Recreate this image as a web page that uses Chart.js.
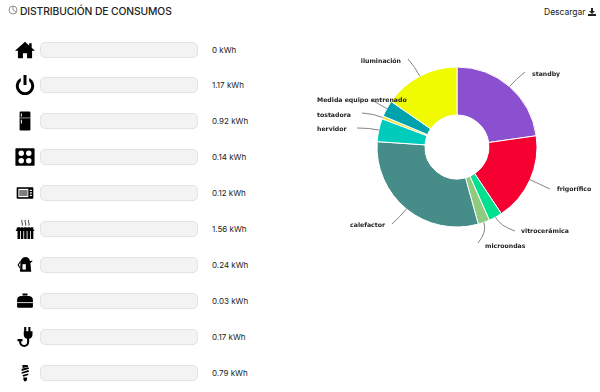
<!DOCTYPE html>
<html>
<head>
<meta charset="utf-8">
<script src="https://cdn.jsdelivr.net/npm/chart.js@4"></script>
<style>
html, body { margin: 0; padding: 0; background: #fff; overflow: hidden; width: 600px; height: 392px; }
body { position: relative; font-family: Inter, "Open Sans", sans-serif; color: #222; }
#title { position: absolute; left: 20px; top: 4px; font-size: 10.3px; line-height: 14px; white-space: nowrap; letter-spacing: -0.1px; font-weight: 500; }
#titleIcon { position: absolute; left: 8px; top: 5px; }
#download { position: absolute; left: 544px; top: 6px; font-size: 8.5px; line-height: 12px; }
#download svg { vertical-align: -1px; }
.track { position: absolute; left: 40px; width: 156px; height: 14px; background: #f3f3f3; border: 1px solid #e3e3e3; border-radius: 5px; }
.value { position: absolute; left: 212px; font-size: 8px; line-height: 12px; white-space: nowrap; }
.icon { position: absolute; left: 14.5px; width: 20px; height: 20px; }
#pie { position: absolute; left: 314px; top: 32px; }
</style>
</head>
<body>
<svg id="titleIcon" width="10" height="10" viewBox="0 0 10 10" fill="none" stroke="#777" stroke-width="0.8"><circle cx="5" cy="5" r="4"/><path d="M5 1v4l3 2"/></svg>
<div id="title">DISTRIBUCIÓN DE CONSUMOS</div>
<div id="download">Descargar <svg width="8" height="8" viewBox="0 0 8 8" fill="#222"><path d="M3 0h2v3h2L4 6 1 3h2zM0 6h8v2H0z"/></svg></div>
<div id="rows"></div>
<canvas id="pie" width="286" height="230"></canvas>

<script>
// Consumption per row, top to bottom
const rowIcons = ['home', 'power', 'fridge', 'hob', 'microwave', 'radiator', 'kettle', 'toaster', 'plug', 'bulb'];
const rowValues = [0, 1.17, 0.92, 0.14, 0.12, 1.56, 0.24, 0.03, 0.17, 0.79];

// Pie slices, clockwise from the top
const categories = ['standby', 'frigorífico', 'vitrocerámica', 'microondas', 'calefactor', 'hervidor', 'tostadora', 'Medida equipo entrenado', 'iluminación'];
const pieValues = [1.17, 0.92, 0.14, 0.12, 1.56, 0.24, 0.03, 0.17, 0.79];
const pieColors = ['#8a50cf', '#f50031', '#00e08f', '#8ecb7f', '#468c88', '#00ccbb', '#e8e020', '#00a3ad', '#f0fa00'];

// Row icons
const iconPaths = {
    home: '<path d="M12 2 0 13h3.500v9h6v-6h5v6h6v-9H24l-4-3.600V4h-3v2.700z"/>',
    power: '<path d="M10.200 0h3.600v12h-3.600z"/><path d="M7 3.500v4a7.500 7.500 0 1 0 10 0v-4a11 11 0 1 1-10 0z"/>',
    fridge: '<rect x="5.500" y="0.500" width="13" height="23" rx="1.500"/><path d="M5.500 8h13v.7h-13z" fill="#fff"/><path d="M7 3h1.200v3.500H7zM7 10.500h1.200v4.500H7z" fill="#fff"/>',
    hob: '<rect x="0.500" y="1.500" width="23" height="21" rx="1"/><g fill="#fff"><circle cx="7.500" cy="7.500" r="3.300"/><circle cx="16.500" cy="7.500" r="3.300"/><circle cx="7.500" cy="16.500" r="3.300"/><circle cx="16.500" cy="16.500" r="3.300"/></g>',
    microwave: '<rect x="2" y="5" width="20" height="14" rx="1"/><path d="M4 7h12v10H4z" fill="#fff"/><path d="M5 9h10v1.200H5zM5 11.400h10v1.200H5zM5 13.800h10v1.200H5z"/><path d="M17.800 8h2.400v1.500h-2.400zM17.800 11h2.400v1.500h-2.400zM17.800 14h2.400v1.500h-2.400z" fill="#fff"/>',
    radiator: '<path d="M3 10h3v14H3zM7 10h3v14H7zM11 10h3v14h-3zM15 10h3v14h-3zM19 10h3v14h-3zM2 10.500h20v2.500H2zM1 13h22v1.500H1z"/><path d="M8.500 1q-1 2 0 3.500t0 3.500M12.500 1q-1 2 0 3.500t0 3.500M16.500 1q-1 2 0 3.500t0 3.500" fill="none" stroke="#000" stroke-width="0.9"/>',
    kettle: '<path d="M12 2.500a6 6 0 0 1 6 5l2.500-1 .5 1-2.500 2 1 10.500H6l.5-10.500a7 7 0 0 1 1-4A6 6 0 0 1 12 2.500z"/><path d="M6.500 7 3 12l2.500 4 1-1-2-3 2.500-3.500z"/><path d="M9 11h4v6.500H9z" fill="#fff"/>',
    toaster: '<path d="M9 3h6v2.500h-6z"/><path d="M7 6h10a5 5 0 0 1 4.500 5v8a1 1 0 0 1-1 1H3.500a1 1 0 0 1-1-1v-8A5 5 0 0 1 7 6z"/><path d="M2.500 13.500h19v1h-19z" fill="#fff"/>',
    plug: '<path d="M11 0h2.500v5H16V0h2.500v5H21v4a5 5 0 0 1-4 5v4a6 6 0 0 1-12 0v-1H3v-2.500h6V17H7.500v1a3.500 3.500 0 0 0 7 0v-4a5 5 0 0 1-4-5V5h.500z"/>',
    bulb: '<path d="M9 2.500h6l1 2-7 1.500zM8 7l8-2 1 2-9 2.500zM8 11l8-2.500 1 2-9 2.500zM9 14.500l7-2v2l-6 2zM10 17.500h4.500v2l-1 2.500h-2.500l-1-2.500z"/>'
};

const rows = document.getElementById('rows');
rowValues.forEach((v, i) => {
    const y = 49.5 + i * 35.9;
    rows.insertAdjacentHTML('beforeend',
        `<svg class="icon" viewBox="0 0 24 24" style="top:${y - 10}px">${iconPaths[rowIcons[i]]}</svg>` +
        `<div class="track" style="top:${y - 8}px"></div>` +
        `<div class="value" style="top:${y - 6}px">${v} kWh</div>`);
});

// Where each label and the end of its leader sit, relative to the pie centre
const labelLayout = {
    'standby': { text: [75, -73], end: [68, -75], align: 'left' },
    'frigorífico': { text: [100, 42], end: [93, 42], align: 'left' },
    'vitrocerámica': { text: [64, 84], end: [58, 84], align: 'left' },
    'microondas': { text: [28, 99], end: [21, 96], align: 'left' },
    'calefactor': { text: [-72, 78], end: [-65, 77], align: 'right' },
    'hervidor': { text: [-140, -18], end: [-100, -19], align: 'left' },
    'tostadora': { text: [-140, -32], end: [-95, -34], align: 'left' },
    'Medida equipo entrenado': { text: [-140, -47], end: [-85, -47], align: 'left' },
    'iluminación': { text: [-56, -86], end: [-49, -88], align: 'right' }
};

// Draws the leaders and labels, starting at the middle of each arc
const leaderLabels = {
    id: 'leaderLabels',
    afterDraw(chart) {
        const ctx = chart.ctx;
        ctx.save();
        ctx.font = 'bold 6.2px "DejaVu Sans"';
        ctx.textBaseline = 'middle';
        chart.getDatasetMeta(0).data.forEach((arc, i) => {
            const p = arc.getProps(['x', 'y', 'startAngle', 'endAngle', 'outerRadius'], true);
            const mid = (p.startAngle + p.endAngle) / 2;
            const layout = labelLayout[categories[i]];
            const sx = p.x + Math.cos(mid) * p.outerRadius;
            const sy = p.y + Math.sin(mid) * p.outerRadius;
            const ex = p.x + layout.end[0];
            const ey = p.y + layout.end[1];
            const cx = p.x + Math.cos(mid) * (p.outerRadius + 10);
            const cy = p.y + Math.sin(mid) * (p.outerRadius + 10);
            ctx.strokeStyle = '#666';
            ctx.lineWidth = 0.8;
            ctx.beginPath();
            ctx.moveTo(sx, sy);
            ctx.quadraticCurveTo(cx, cy, ex, ey);
            ctx.stroke();
            ctx.fillStyle = '#222';
            ctx.textAlign = layout.align;
            ctx.fillText(categories[i], p.x + layout.text[0], p.y + layout.text[1]);
        });
        ctx.restore();
    }
};

new Chart(document.getElementById('pie').getContext('2d'), {
    type: 'doughnut',
    data: {
        labels: categories,
        datasets: [{
            data: pieValues,
            backgroundColor: pieColors,
            borderColor: '#fff',
            borderWidth: 1
        }]
    },
    options: {
        responsive: false,
        animation: false,
        radius: 80,
        cutout: '40%',
        plugins: { legend: { display: false }, tooltip: { enabled: false } }
    },
    plugins: [leaderLabels]
});
</script>
</body>
</html>
